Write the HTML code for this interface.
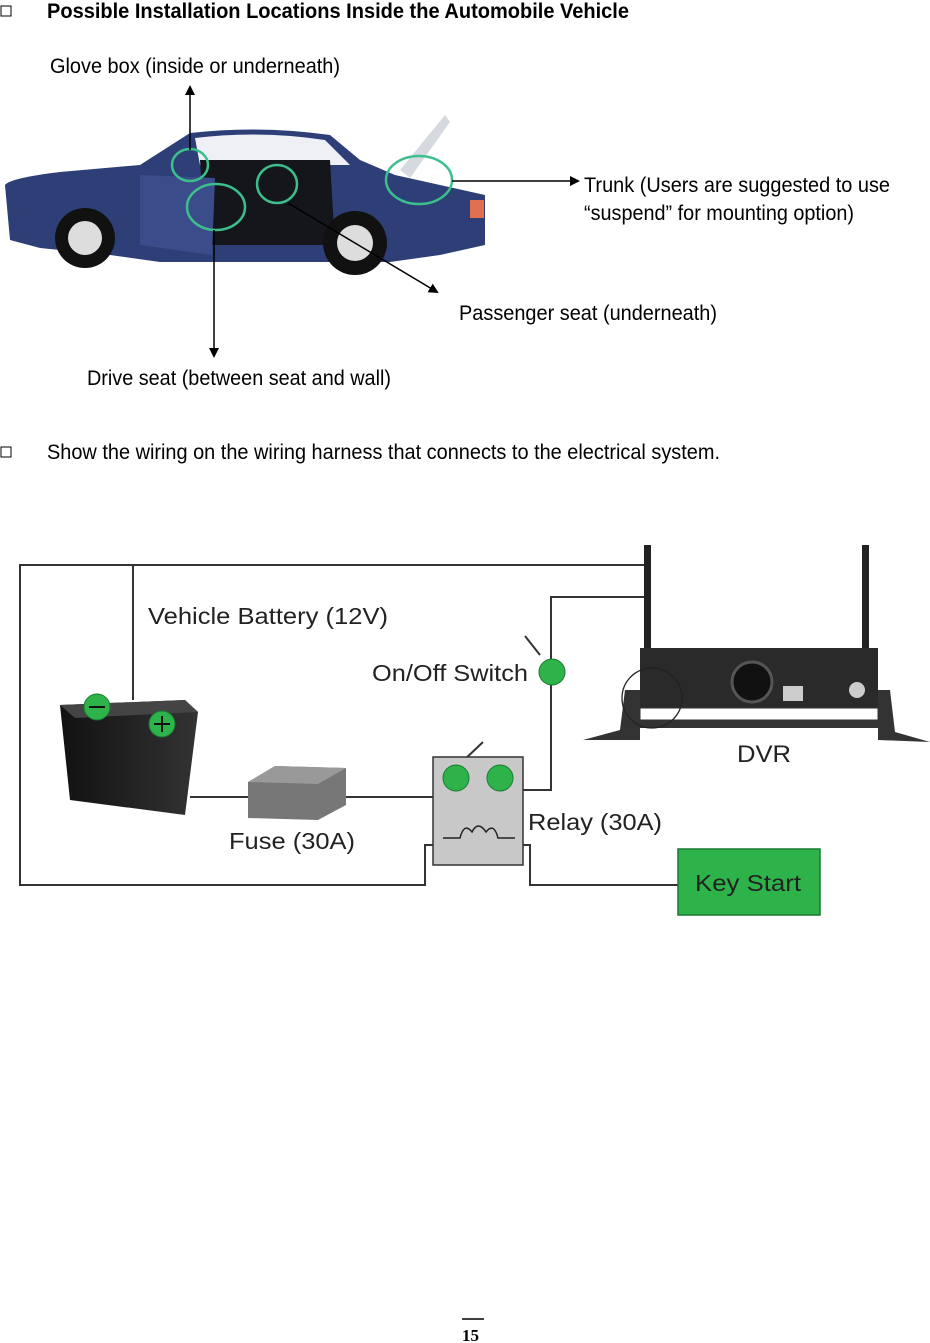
<!DOCTYPE html>
<html><head><meta charset="utf-8"><style>
html,body{margin:0;padding:0;background:#fff;}
svg{display:block;}
text{font-family:"Liberation Sans",sans-serif;}
</style></head><body>
<svg width="930" height="1343" viewBox="0 0 930 1343" xmlns="http://www.w3.org/2000/svg">
<defs>
<marker id="ar" markerWidth="10" markerHeight="10" refX="8" refY="5" orient="auto" markerUnits="userSpaceOnUse"><path d="M0,0 L10,5 L0,10 z" fill="#000"/></marker>
<linearGradient id="bat" x1="0" x2="1"><stop offset="0" stop-color="#111"/><stop offset="1" stop-color="#333"/></linearGradient>
</defs>
<!-- header -->
<rect x="1" y="6" width="10" height="10" fill="none" stroke="#000" stroke-width="1"/>
<text x="47" y="18" font-size="21" font-weight="bold" textLength="582" lengthAdjust="spacingAndGlyphs">Possible Installation Locations Inside the Automobile Vehicle</text>
<text x="50" y="73" font-size="21" textLength="290" lengthAdjust="spacingAndGlyphs">Glove box (inside or underneath)</text>
<!-- car -->
<g>
<path d="M5,185 Q10,178 60,172 L140,165 L190,133 Q260,125 330,135 L360,160 L395,175 L440,185 L485,195 L485,245 L440,255 L390,262 L160,262 L110,255 L40,248 L10,240 Z" fill="#2e3f78"/>
<path d="M195,138 Q260,130 325,140 L350,165 L200,165 Z" fill="#eef0f6"/>
<path d="M200,160 L330,160 L335,245 L205,245 Z" fill="#14161c"/>
<path d="M140,175 L215,178 L212,255 L140,245 Z" fill="#3a4c8a"/>
<path d="M400,170 L445,115 L450,122 L410,178 Z" fill="#d7d9e0"/>
<rect x="470" y="200" width="14" height="18" fill="#e07050"/>
<circle cx="85" cy="238" r="30" fill="#111"/><circle cx="85" cy="238" r="17" fill="#ddd"/>
<circle cx="355" cy="243" r="32" fill="#111"/><circle cx="355" cy="243" r="18" fill="#ddd"/>
<ellipse cx="190" cy="165" rx="18" ry="16" fill="none" stroke="#3cbf8c" stroke-width="2.5"/>
<ellipse cx="216" cy="207" rx="29" ry="23" fill="none" stroke="#3cbf8c" stroke-width="2.5"/>
<ellipse cx="277" cy="184" rx="20" ry="19" fill="none" stroke="#3cbf8c" stroke-width="2.5"/>
<ellipse cx="419" cy="180" rx="33" ry="24" fill="none" stroke="#3cbf8c" stroke-width="2.5"/>
</g>
<line x1="190" y1="150" x2="190" y2="87" stroke="#000" stroke-width="1.5" marker-end="url(#ar)"/>
<line x1="452" y1="181" x2="578" y2="181" stroke="#000" stroke-width="1.5" marker-end="url(#ar)"/>
<line x1="288" y1="203" x2="437" y2="292" stroke="#000" stroke-width="1.5" marker-end="url(#ar)"/>
<line x1="214" y1="230" x2="214" y2="356" stroke="#000" stroke-width="1.5" marker-end="url(#ar)"/>
<text x="584" y="192" font-size="21" textLength="306" lengthAdjust="spacingAndGlyphs">Trunk (Users are suggested to use</text>
<text x="584" y="220" font-size="21" textLength="270" lengthAdjust="spacingAndGlyphs">“suspend” for mounting option)</text>
<text x="459" y="320" font-size="21" textLength="258" lengthAdjust="spacingAndGlyphs">Passenger seat (underneath)</text>
<text x="87" y="385" font-size="21" textLength="304" lengthAdjust="spacingAndGlyphs">Drive seat (between seat and wall)</text>
<rect x="1" y="447" width="10" height="10" fill="none" stroke="#000" stroke-width="1"/>
<text x="47" y="459" font-size="21" textLength="673" lengthAdjust="spacingAndGlyphs">Show the wiring on the wiring harness that connects to the electrical system.</text>
<!-- wiring -->
<g fill="none" stroke="#333" stroke-width="2">
<polyline points="648,565 20,565 20,885 425,885 425,845 433,845"/>
<line x1="133" y1="565" x2="133" y2="700"/>
<line x1="190" y1="797" x2="433" y2="797"/>
<polyline points="648,597 551,597 551,790 523,790"/>
<polyline points="523,845 530,845 530,885 678,885"/>
<line x1="462" y1="762" x2="483" y2="742"/>
<line x1="540" y1="655" x2="525" y2="636"/>
</g>
<text x="148" y="624" font-size="23" fill="#222" textLength="240" lengthAdjust="spacingAndGlyphs">Vehicle Battery (12V)</text>
<text x="372" y="681" font-size="23" fill="#222" textLength="156" lengthAdjust="spacingAndGlyphs">On/Off Switch</text>
<circle cx="552" cy="672" r="13" fill="#2db34a" stroke="#1a7a30"/>
<!-- battery -->
<path d="M60,705 L185,700 L198,712 L185,815 L70,800 Z" fill="url(#bat)"/>
<path d="M60,705 L185,700 L198,712 L75,718 Z" fill="#444"/>
<circle cx="97" cy="707" r="13" fill="#2db34a" stroke="#1a7a30"/><line x1="89" y1="707" x2="105" y2="707" stroke="#111" stroke-width="2"/>
<circle cx="162" cy="724" r="13" fill="#2db34a" stroke="#1a7a30"/><line x1="154" y1="724" x2="170" y2="724" stroke="#111" stroke-width="2"/><line x1="162" y1="716" x2="162" y2="732" stroke="#111" stroke-width="2"/>
<!-- fuse -->
<path d="M248,782 L275,766 L346,768 L346,805 L318,820 L248,818 Z" fill="#777"/>
<path d="M248,782 L275,766 L346,768 L318,784 Z" fill="#999"/>
<text x="229" y="849" font-size="23" fill="#222" textLength="126" lengthAdjust="spacingAndGlyphs">Fuse (30A)</text>
<!-- relay -->
<rect x="433" y="757" width="90" height="108" fill="#c8c8c8" stroke="#333" stroke-width="1.5"/>
<circle cx="456" cy="778" r="13" fill="#2db34a" stroke="#1a7a30"/>
<circle cx="500" cy="778" r="13" fill="#2db34a" stroke="#1a7a30"/>
<path d="M443,838 L460,838 Q464,822 472,832 Q478,820 486,832 Q494,822 498,838 L515,838" fill="none" stroke="#222" stroke-width="1.5"/>
<text x="528" y="830" font-size="23" fill="#222" textLength="134" lengthAdjust="spacingAndGlyphs">Relay (30A)</text>
<rect x="678" y="849" width="142" height="66" fill="#2db34a" stroke="#1a7a30" stroke-width="1.5"/>
<text x="695" y="891" font-size="23" fill="#222" textLength="106" lengthAdjust="spacingAndGlyphs">Key Start</text>
<!-- DVR -->
<rect x="644" y="545" width="7" height="145" fill="#222"/>
<rect x="862" y="545" width="7" height="140" fill="#222"/>
<rect x="640" y="648" width="238" height="60" fill="#2a2a2a"/>
<rect x="640" y="708" width="238" height="12" fill="#fff" stroke="#333"/>
<rect x="640" y="720" width="238" height="8" fill="#333"/>
<path d="M583,740 L620,730 L625,690 L640,690 L640,740 Z" fill="#333"/>
<path d="M930,742 L895,732 L890,690 L878,690 L878,740 Z" fill="#333"/>
<circle cx="752" cy="682" r="20" fill="#111" stroke="#555" stroke-width="3"/>
<rect x="783" y="686" width="20" height="15" fill="#ccc"/>
<circle cx="857" cy="690" r="8" fill="#ccc"/>
<circle cx="652" cy="698" r="30" fill="none" stroke="#222" stroke-width="1.3"/>
<text x="737" y="762" font-size="24" fill="#222" textLength="54" lengthAdjust="spacingAndGlyphs">DVR</text>
<!-- footer -->
<line x1="462" y1="1319" x2="484" y2="1319" stroke="#000" stroke-width="1.5"/>
<text x="462" y="1341" font-size="17" font-weight="bold" font-family="Liberation Serif" style="font-family:'Liberation Serif',serif">15</text>
</svg>
</body></html>
